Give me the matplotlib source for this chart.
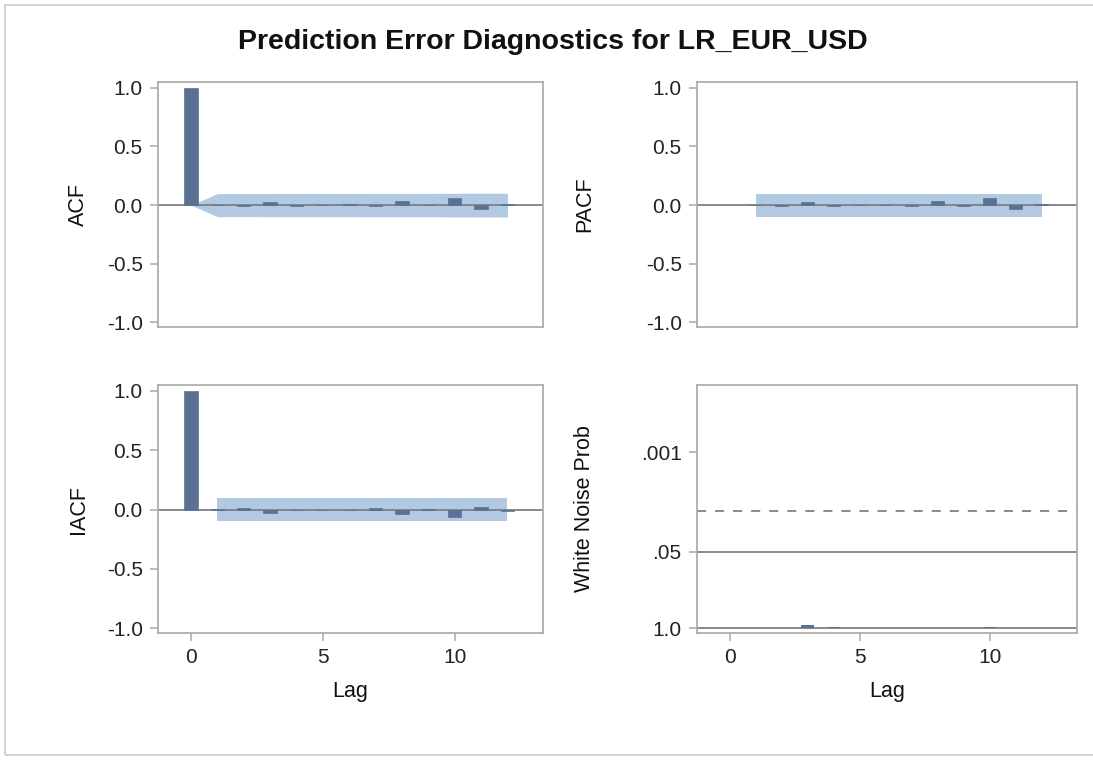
"""Prediction error diagnostics panel (ACF / PACF / IACF / white noise)"""
import numpy as np
import matplotlib.pyplot as plt
from matplotlib.patches import Rectangle

plt.rcParams['font.family'] = ['Liberation Sans', 'DejaVu Sans']

# data
lags = list(range(0, 13))
acf = [1.0, -0.003, -0.01, 0.03, -0.005, 0.002, 0.008, -0.008, 0.035, -0.003, 0.06, -0.03, 0.01]
pacf_lags = list(range(1, 13))
pacf = [-0.003, -0.01, 0.03, -0.005, 0.0, 0.005, -0.01, 0.035, -0.005, 0.06, -0.03, 0.01]
iacf = [1.0, 0.003, 0.01, -0.03, 0.0, -0.003, 0.0, 0.01, -0.035, 0.005, -0.06, 0.025, -0.01]
acf_band = [0.0, 0.098, 0.098, 0.099, 0.099, 0.099, 0.099, 0.1, 0.1, 0.1, 0.101, 0.101, 0.101]
pacf_band = [0.098] * 12
wn_lags = list(range(1, 13))
wn_prob = [0.99, 0.98, 0.89, 0.97, 0.99, 0.99, 0.99, 0.99, 0.99, 0.97, 0.99, 0.99]
wn_ticks = [0.001, 0.05, 1.0]
wn_ticklabels = ['.001', '.05', '1.0']

title = 'Prediction Error Diagnostics for LR_EUR_USD'

BAR = '#5b7194'
BAND = '#b2c9e4'
SPINE = '#a8a8a8'
REF = '#808080'

W, H = 1093, 761
fig = plt.figure(figsize=(W / 100, H / 100), dpi=100)


def box(x0, x1, y0, y1):
    # pixel box -> figure fraction
    return [x0 / W, 1 - y1 / H, (x1 - x0) / W, (y1 - y0) / H]


def style(ax, ylabel, label_x, xlabel=None):
    for s in ax.spines.values():
        s.set_color(SPINE)
        s.set_linewidth(1.2)
    ax.tick_params(colors=SPINE, labelcolor='#222222', labelsize=15,
                   length=6, width=1.1, pad=5)
    ax.set_ylabel(ylabel, fontsize=15.5, color='#111111')
    ax.yaxis.set_label_coords(label_x, 0.5)
    ax.set_xlim(-1.25, 13.35)
    ax.set_xticks([0, 5, 10])
    if xlabel:
        ax.set_xlabel(xlabel, fontsize=15.5, labelpad=10, color='#111111')
    else:
        ax.tick_params(axis='x', bottom=False, labelbottom=False)


def corr_panel(ax, x, y, bx, band, ylabel, label_x, xlabel=None):
    ax.fill_between(bx, -np.array(band), band, color=BAND, lw=0, zorder=1)
    ax.axhline(0, color=REF, lw=1.3, zorder=2)
    ax.bar(x, y, width=0.5, color=BAR, edgecolor=BAR, lw=0.5, zorder=3)
    ax.set_ylim(-1.04, 1.05)
    ax.set_yticks([-1, -0.5, 0, 0.5, 1])
    ax.set_yticklabels(['-1.0', '-0.5', '0.0', '0.5', '1.0'])
    style(ax, ylabel, label_x, xlabel)


LEFT_LX = (89 - 158) / 385
RIGHT_LX = (595 - 697) / 380

ax1 = fig.add_axes(box(158, 543, 82, 327))
corr_panel(ax1, lags, acf, lags, acf_band, 'ACF', LEFT_LX)

ax2 = fig.add_axes(box(697, 1077, 82, 327))
corr_panel(ax2, pacf_lags, pacf, pacf_lags, pacf_band, 'PACF', RIGHT_LX)

ax3 = fig.add_axes(box(158, 543, 385, 633))
corr_panel(ax3, lags, iacf, pacf_lags, pacf_band, 'IACF', LEFT_LX, 'Lag')

ax4 = fig.add_axes(box(697, 1077, 385, 633))
ax4.axhline(-np.log10(0.05), color=REF, lw=1.3, zorder=2)
ax4.axhline(-np.log10(0.01), color=REF, lw=1.3, ls=(0, (5, 5)), zorder=2)
ax4.axhline(0, color=REF, lw=1.3, zorder=2)
ax4.bar(wn_lags, -np.log10(wn_prob), width=0.5, color=BAR, zorder=3)
ax4.set_ylim(-0.085, 4.15)
ax4.set_yticks(-np.log10(wn_ticks))
ax4.set_yticklabels(wn_ticklabels)
style(ax4, 'White Noise Prob', RIGHT_LX, 'Lag')

fig.text(553 / W, 1 - 42 / H, title, ha='center', va='center',
         fontsize=20.5, fontweight='bold', color='#111111')

# thin frame around the graph
fig.patches.append(Rectangle((5 / W, 6 / H), 1.2, 1 - 11 / H,
                             transform=fig.transFigure, fill=False,
                             edgecolor='#cccccc', lw=1.2))

fig.savefig('out.png', dpi=100)
